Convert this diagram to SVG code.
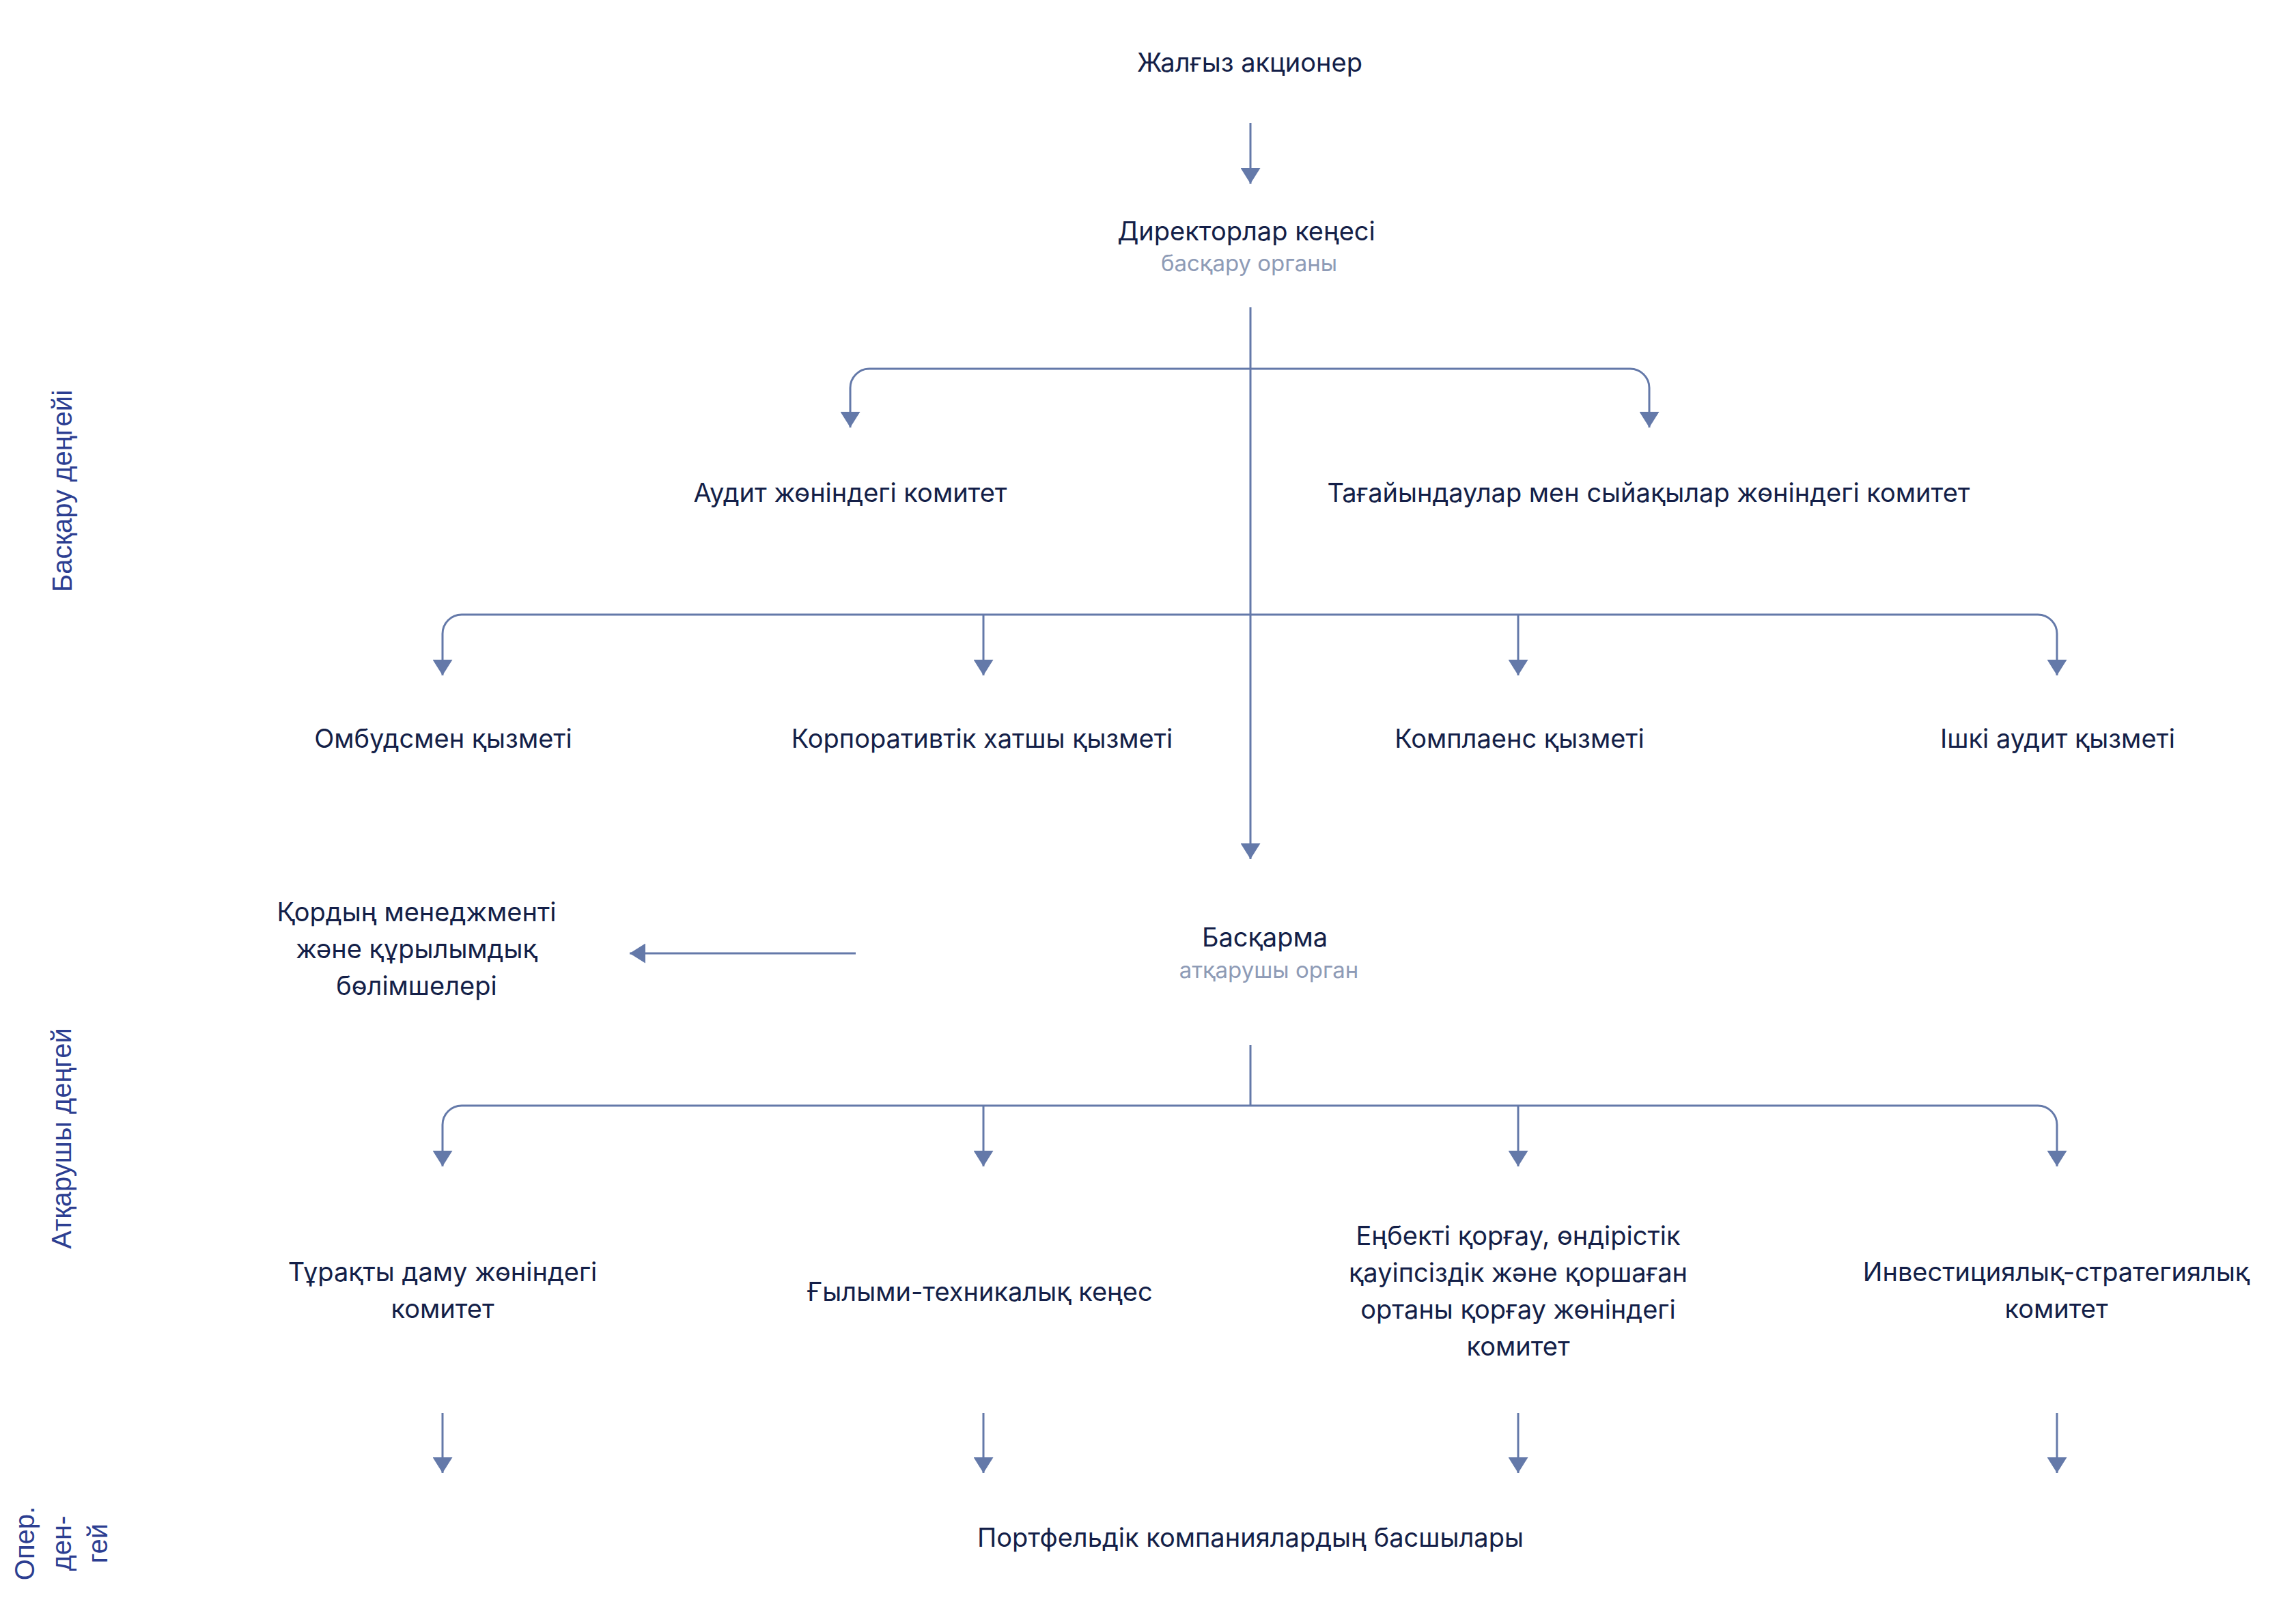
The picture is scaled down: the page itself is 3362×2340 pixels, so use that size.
<svg xmlns="http://www.w3.org/2000/svg" width="3362" height="2340" viewBox="0 0 3362 2340">
<style>
.t{font-family:Inter,"Noto Sans",sans-serif;font-size:38px;fill:#141f48;text-anchor:middle}
.s{font-family:Inter,"Noto Sans",sans-serif;font-size:33px;fill:#8e9bb6;text-anchor:middle}
.lv{font-family:"Liberation Sans",Arial,sans-serif;font-size:40px;fill:#2c3e91;text-anchor:middle}
.c{fill:none;stroke:#6479a9;stroke-width:3}
</style>
<defs>
<marker id="ah" markerUnits="userSpaceOnUse" markerWidth="23" markerHeight="29" refX="23" refY="14.5" orient="auto">
<path d="M0,0 L23,14.5 L0,29 Z" fill="#6479a9"/>
</marker>
</defs>
<rect width="3362" height="2340" fill="#ffffff"/>
<g id="levels">
<text class="lv" transform="translate(105,719) rotate(-90)">Басқару деңгейі</text>
<text class="lv" transform="translate(104,1667) rotate(-90)">Атқарушы деңгей</text>
<text class="lv" transform="translate(50,2260) rotate(-90)"><tspan x="0" y="0">Опер.</tspan><tspan x="0" y="54">ден-</tspan><tspan x="0" y="107">гей</tspan></text>
</g>
<g id="connectors">
<path class="c" d="M1831,180 V269" marker-end="url(#ah)"/>
<path class="c" d="M1831,450 V1258" marker-end="url(#ah)"/>
<path class="c" d="M1831,540 H1273 A28,28 0 0 0 1245,568 V626" marker-end="url(#ah)"/>
<path class="c" d="M1831,540 H2387 A28,28 0 0 1 2415,568 V626" marker-end="url(#ah)"/>
<path class="c" d="M1831,900 H676 A28,28 0 0 0 648,928 V989" marker-end="url(#ah)"/>
<path class="c" d="M1440,900 V989" marker-end="url(#ah)"/>
<path class="c" d="M2223,900 V989" marker-end="url(#ah)"/>
<path class="c" d="M1831,900 H2984 A28,28 0 0 1 3012,928 V989" marker-end="url(#ah)"/>
<path class="c" d="M1253,1396 H922" marker-end="url(#ah)"/>
<path class="c" d="M1831,1530 V1619"/>
<path class="c" d="M1831,1619 H676 A28,28 0 0 0 648,1647 V1708" marker-end="url(#ah)"/>
<path class="c" d="M1440,1619 V1708" marker-end="url(#ah)"/>
<path class="c" d="M2223,1619 V1708" marker-end="url(#ah)"/>
<path class="c" d="M1831,1619 H2984 A28,28 0 0 1 3012,1647 V1708" marker-end="url(#ah)"/>
<path class="c" d="M648,2069 V2157" marker-end="url(#ah)"/>
<path class="c" d="M1440,2069 V2157" marker-end="url(#ah)"/>
<path class="c" d="M2223,2069 V2157" marker-end="url(#ah)"/>
<path class="c" d="M3012,2069 V2157" marker-end="url(#ah)"/>
</g>
<g id="shareholder"><text class="t" x="1830" y="105">Жалғыз акционер</text></g>
<g id="board"><text class="t" x="1825" y="352">Директорлар кеңесі</text><text class="s" x="1829" y="397">басқару органы</text></g>
<g id="audit-committee"><text class="t" x="1245" y="735">Аудит жөніндегі комитет</text></g>
<g id="nomination-committee"><text class="t" x="2414" y="735">Тағайындаулар мен сыйақылар жөніндегі комитет</text></g>
<g id="ombudsman"><text class="t" x="649" y="1095">Омбудсмен қызметі</text></g>
<g id="corporate-secretary"><text class="t" x="1438" y="1095">Корпоративтік хатшы қызметі</text></g>
<g id="compliance"><text class="t" x="2225" y="1095">Комплаенс қызметі</text></g>
<g id="internal-audit"><text class="t" x="3013" y="1095">Ішкі аудит қызметі</text></g>
<g id="management-board"><text class="t" x="1852" y="1386">Басқарма</text><text class="s" x="1858" y="1432">атқарушы орган</text></g>
<g id="fund-management"><text class="t" x="610"><tspan x="610" y="1349">Қордың менеджменті</tspan><tspan x="610" y="1403">және құрылымдық</tspan><tspan x="610" y="1457">бөлімшелері</tspan></text></g>
<g id="sustainability-committee"><text class="t"><tspan x="648" y="1876">Тұрақты даму жөніндегі</tspan><tspan x="648" y="1930">комитет</tspan></text></g>
<g id="scientific-council"><text class="t" x="1435" y="1905">Ғылыми-техникалық кеңес</text></g>
<g id="hse-committee"><text class="t"><tspan x="2223" y="1823">Еңбекті қорғау, өндірістік</tspan><tspan x="2223" y="1877">қауіпсіздік және қоршаған</tspan><tspan x="2223" y="1931">ортаны қорғау жөніндегі</tspan><tspan x="2223" y="1985">комитет</tspan></text></g>
<g id="investment-committee"><text class="t"><tspan x="3011" y="1876">Инвестициялық-стратегиялық</tspan><tspan x="3011" y="1930">комитет</tspan></text></g>
<g id="portfolio-heads"><text class="t" x="1831" y="2265">Портфельдік компаниялардың басшылары</text></g>
</svg>
